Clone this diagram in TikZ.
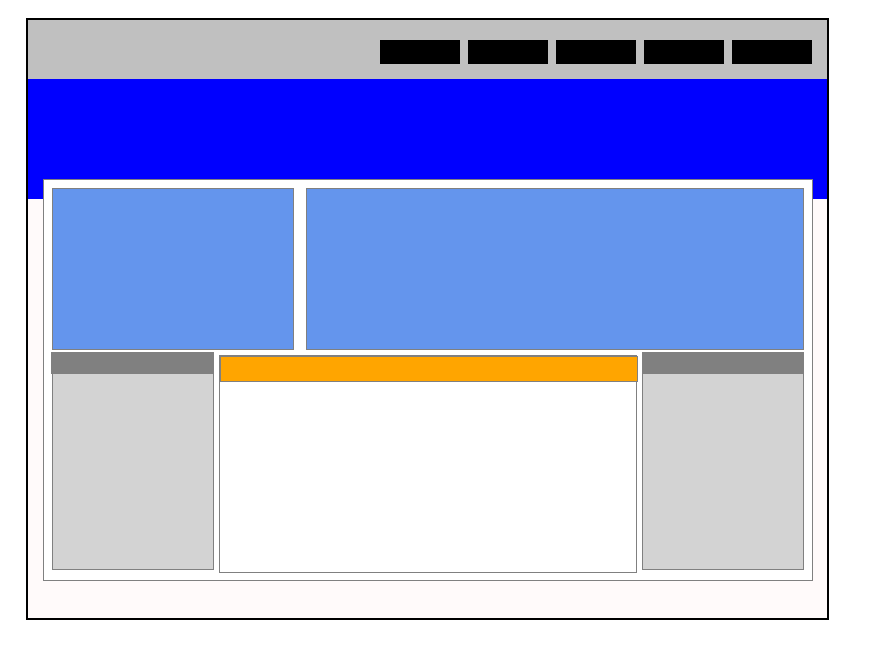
\documentclass[tikz,border=0pt]{standalone}
\usetikzlibrary{positioning}
\definecolor{page}{HTML}{FFFAFA}
\definecolor{header}{HTML}{C0C0C0}
\definecolor{banner}{HTML}{0000FF}
\definecolor{hero}{HTML}{6495ED}
\definecolor{side}{HTML}{D3D3D3}
\definecolor{sidehead}{HTML}{808080}
\definecolor{frame}{HTML}{808080}
\definecolor{accent}{HTML}{FFA500}

\begin{document}
\begin{tikzpicture}[x=1pt,y=-1pt,
  box/.style={draw=frame,line width=.8pt},
  navbtn/.style={fill=black}]
  \useasboundingbox (0,0) rectangle (869,656);
  % page and header
  \fill[page] (27,19) rectangle (828,619);
  \fill[header] (27,19) rectangle (828,79);
  \fill[banner] (27,79) rectangle (828,199);
  \draw[black,line width=1.5pt] (27,19) rectangle (828,619);
  \foreach \x in {380,468,556,644,732}
    \fill[navbtn] (\x,40) rectangle ++(80,24);
  % content area
  \draw[box,fill=white] (43.5,179.5) rectangle (812,580);
  \draw[box,fill=hero] (52.5,188.5) rectangle (293.5,349.5);
  \draw[box,fill=hero] (306.5,188.5) rectangle (803.5,349.5);
  % left sidebar
  \draw[box,fill=side] (52.5,373.5) rectangle (213.5,569.5);
  \fill[sidehead] (51,352) rectangle (214,373.5);
  % main column
  \draw[box,fill=white] (219.5,355.5) rectangle (636.5,572.5);
  \draw[box,fill=accent] (220.5,356.5) rectangle (637,381.5);
  % right sidebar
  \draw[box,fill=side] (642.5,373.5) rectangle (803.5,569.5);
  \fill[sidehead] (642,352) rectangle (804,373.5);
\end{tikzpicture}
\end{document}
